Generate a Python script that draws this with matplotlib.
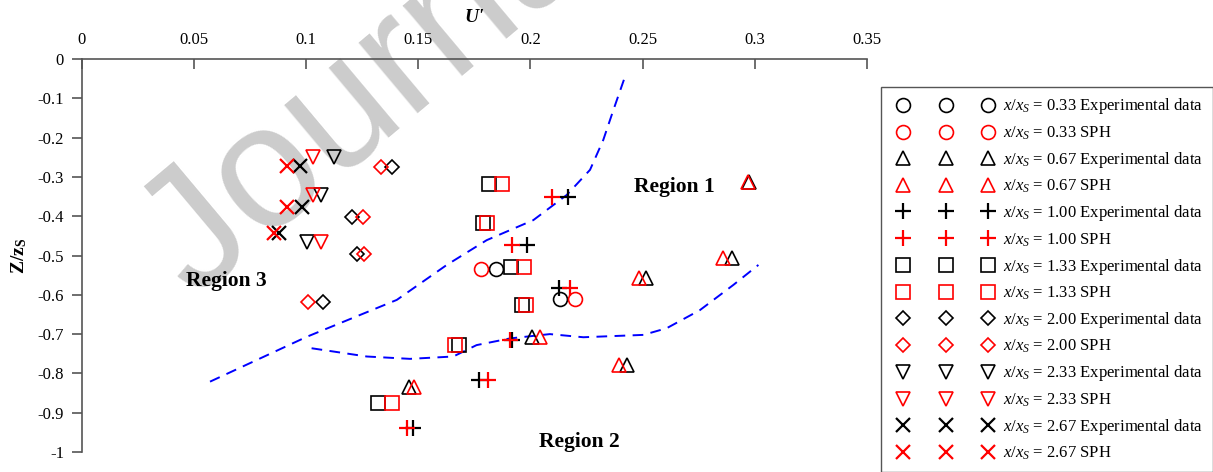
import numpy as np
import matplotlib
matplotlib.use('Agg')
import matplotlib.pyplot as plt
from matplotlib.legend_handler import HandlerLine2D

plt.rcParams['font.family'] = ['Liberation Serif', 'DejaVu Serif']
plt.rcParams['mathtext.fontset'] = 'custom'
plt.rcParams['mathtext.rm'] = 'Liberation Serif'
plt.rcParams['mathtext.it'] = 'Liberation Serif:italic'
plt.rcParams['mathtext.bf'] = 'Liberation Serif:bold'

# x/xs = 0.33
z_033 = [-0.534, -0.611]
exp_033 = [0.1845, 0.213]
sph_033 = [0.178, 0.220]
# x/xs = 0.67
z_067 = [-0.312, -0.507, -0.556, -0.708, -0.779, -0.834]
exp_067 = [0.2975, 0.290, 0.2514, 0.2009, 0.243, 0.146]
sph_067 = [0.297, 0.2857, 0.2486, 0.2043, 0.2397, 0.148]
# x/xs = 1.00
z_100 = [-0.350, -0.473, -0.583, -0.715, -0.818, -0.938]
exp_100 = [0.2169, 0.1983, 0.2128, 0.1919, 0.1771, 0.1478]
sph_100 = [0.2098, 0.1916, 0.2177, 0.1909, 0.1812, 0.1451]
# x/xs = 1.33
z_133 = [-0.318, -0.4165, -0.528, -0.626, -0.728, -0.876]
exp_133 = [0.1815, 0.179, 0.1913, 0.1961, 0.1683, 0.1319]
sph_133 = [0.1872, 0.1805, 0.1973, 0.198, 0.1664, 0.1384]
# x/xs = 2.00
z_200 = [-0.274, -0.403, -0.496, -0.6175]
exp_200 = [0.1384, 0.1203, 0.1225, 0.1074]
sph_200 = [0.1334, 0.1252, 0.1259, 0.1009]
# x/xs = 2.33
z_233 = [-0.250, -0.346, -0.466]
exp_233 = [0.1125, 0.1065, 0.1005]
sph_233 = [0.1032, 0.1032, 0.1065]
# x/xs = 2.67
z_267 = [-0.2715, -0.377, -0.442]
exp_267 = [0.0972, 0.098, 0.088]
sph_267 = [0.0916, 0.0916, 0.0856]

# region boundaries (dashed)
b1_u = [0.0571, 0.1002, 0.1404, 0.1627, 0.1805, 0.2013, 0.2162, 0.2266, 0.2325, 0.237, 0.2417]
b1_z = [-0.821, -0.707, -0.613, -0.524, -0.461, -0.410, -0.346, -0.282, -0.206, -0.130, -0.053]
b2_u = [0.1024, 0.127, 0.1463, 0.1656, 0.176, 0.1909, 0.2087, 0.2236, 0.2504, 0.2608, 0.2756, 0.2905, 0.3017]
b2_z = [-0.736, -0.757, -0.763, -0.757, -0.728, -0.711, -0.700, -0.708, -0.702, -0.685, -0.639, -0.575, -0.524]

groups = [
    ('0.33', 'o', 10, z_033, exp_033, sph_033),
    ('0.67', '^', 10, z_067, exp_067, sph_067),
    ('1.00', '+', 11, z_100, exp_100, sph_100),
    ('1.33', 's', 9.5, z_133, exp_133, sph_133),
    ('2.00', 'D', 7.5, z_200, exp_200, sph_200),
    ('2.33', 'v', 10, z_233, exp_233, sph_233),
    ('2.67', 'x', 10, z_267, exp_267, sph_267),
]

fig = plt.figure(figsize=(12.13, 4.72), dpi=100)
ax = fig.add_axes([82/1213, 1-452/472, (866.7-82)/1213, (452-59)/472])
ax.patch.set_visible(False)

ax.plot(b1_u, b1_z, color='blue', lw=1.4, dashes=(5.5, 3.8))
ax.plot(b2_u, b2_z, color='blue', lw=1.4, dashes=(5.5, 3.8))

handles = []
for lab, m, ms, z, e, s in groups:
    mew = 1.6 if m in '+x' else 1.2
    h1, = ax.plot(e, z, ls='none', marker=m, ms=ms, mfc='none', mec='black', mew=mew,
                  label=r'$x/x_S$ = ' + lab + ' Experimental data')
    h2, = ax.plot(s, z, ls='none', marker=m, ms=ms, mfc='none', mec='red', mew=mew,
                  label=r'$x/x_S$ = ' + lab + ' SPH')
    handles += [h1, h2]

ax.text(0.264, -0.326, 'Region 1', fontsize=15.5, fontweight='bold', ha='center', va='center')
ax.text(0.222, -0.975, 'Region 2', fontsize=15.5, fontweight='bold', ha='center', va='center')
ax.text(0.0642, -0.565, 'Region 3', fontsize=15.5, fontweight='bold', ha='center', va='center')

ax.set_xlim(0, 0.35)
ax.set_ylim(-1, 0)
ax.set_xticks([0, 0.05, 0.1, 0.15, 0.2, 0.25, 0.3, 0.35])
ax.set_xticklabels(['0', '0.05', '0.1', '0.15', '0.2', '0.25', '0.3', '0.35'])
ax.set_yticks(np.arange(0, -1.01, -0.1))
ax.set_yticklabels(['0', '-0.1', '-0.2', '-0.3', '-0.4', '-0.5', '-0.6', '-0.7', '-0.8', '-0.9', '-1'])
ax.xaxis.tick_top()
ax.tick_params(axis='x', direction='in', length=7, width=1.2, pad=8, labelsize=12, color='#555555')
ax.tick_params(axis='y', direction='out', length=7, width=1.2, pad=6, labelsize=12, color='#555555')
for sp in ['right', 'bottom']:
    ax.spines[sp].set_visible(False)
for sp in ['top', 'left']:
    ax.spines[sp].set_color('#555555')
    ax.spines[sp].set_linewidth(1.2)

fig.text(474/1213, 1-17/472, "U'", fontsize=14, fontweight='bold', fontstyle='italic',
         ha='center', va='center')
ax.set_ylabel(r'$\mathbf{Z/z}_\mathbf{S}$', fontsize=14, labelpad=6)

hmap = {h: HandlerLine2D(numpoints=3, marker_pad=0.74) for h in handles}
fig.legend(handles=handles, loc='upper left', bbox_to_anchor=(881/1213, 1-86.7/472),
           borderaxespad=0, handler_map=hmap, handlelength=6.6, handletextpad=0.15,
           labelspacing=0.48, borderpad=0.58, fontsize=12, frameon=True, fancybox=False,
           edgecolor='#555555', framealpha=1)

# watermark, behind the data
fig.text(195/1213, 1-300/472, 'Journal Pre-proof', fontsize=125, color='#cccccc',
         family='Liberation Sans', rotation=40, rotation_mode='anchor',
         ha='left', va='baseline', zorder=-1)

fig.savefig('out.png', dpi=100)
